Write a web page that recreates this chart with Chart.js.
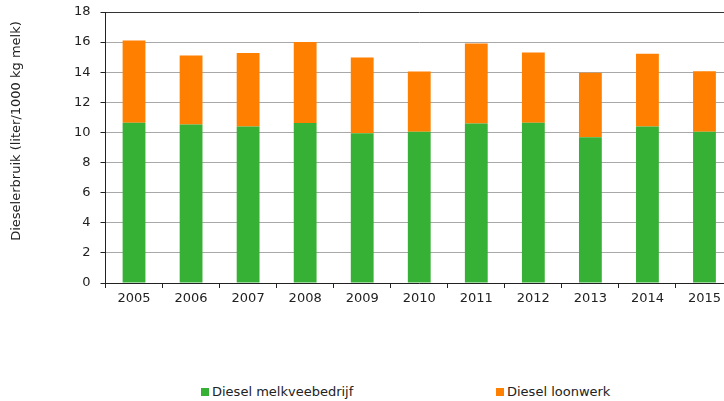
<!DOCTYPE html>
<html>
<head>
<meta charset="utf-8">
<script src="https://cdn.jsdelivr.net/npm/chart.js@4"></script>
<style>
  html, body { margin: 0; padding: 0; background: #fff; overflow: hidden; width: 724px; height: 401px; }
  #wrap { position: relative; width: 724px; height: 401px; }
  #c { position: absolute; left: 0; top: 0; }
  .legend { position: absolute; top: 384px; font: 13px "DejaVu Sans", Verdana, sans-serif; color: #222; white-space: nowrap; }
  .legend span.box { display: inline-block; width: 8px; height: 8px; margin-right: 3px; vertical-align: 0px; }
</style>
</head>
<body>
<div id="wrap">
  <canvas id="c" width="740" height="320"></canvas>
  <div class="legend" style="left:201px"><span class="box" style="background:#37b036"></span>Diesel melkveebedrijf</div>
  <div class="legend" style="left:496px"><span class="box" style="background:#ff7f00"></span>Diesel loonwerk</div>
</div>
<script>
const jaren = ['2005', '2006', '2007', '2008', '2009', '2010', '2011', '2012', '2013', '2014', '2015'];
const diesel_melkveebedrijf = [10.65, 10.52, 10.39, 10.63, 9.95, 10.05, 10.59, 10.65, 9.68, 10.39, 10.05];
const diesel_loonwerk = [5.46, 4.59, 4.88, 5.37, 5.03, 4.00, 5.32, 4.66, 4.28, 4.83, 4.02];

const lettertype = { family: '"DejaVu Sans", Verdana, sans-serif', size: 13 };

// y-as titel zelf tekenen, iets boven het midden zoals in het origineel
const asTitel = {
  id: 'asTitel',
  afterDraw(chart) {
    const ctx = chart.ctx;
    ctx.save();
    ctx.translate(17, 131);
    ctx.rotate(-Math.PI / 2);
    ctx.font = '13px "DejaVu Sans", Verdana, sans-serif';
    ctx.fillStyle = '#222';
    ctx.textAlign = 'center';
    ctx.textBaseline = 'middle';
    ctx.fillText('Dieselerbruik (liter/1000 kg melk)', 0, 0);
    ctx.restore();
  }
};

const ctx1 = document.getElementById('c').getContext('2d');

new Chart(ctx1, {
  type: 'bar',
  data: {
    labels: jaren,
    datasets: [
      {
        label: 'Diesel melkveebedrijf',
        data: diesel_melkveebedrijf,
        backgroundColor: '#37b036',
        categoryPercentage: 1,
        barPercentage: 0.4
      },
      {
        label: 'Diesel loonwerk',
        data: diesel_loonwerk,
        backgroundColor: '#ff7f00',
        categoryPercentage: 1,
        barPercentage: 0.4
      }
    ]
  },
  options: {
    responsive: false,
    animation: false,
    devicePixelRatio: 1,
    layout: { padding: { top: 12, left: 0, right: 7, bottom: 0 } },
    plugins: {
      legend: { display: false },
      tooltip: { enabled: false }
    },
    scales: {
      x: {
        stacked: true,
        afterFit: (s) => { s.height = 37; s.paddingLeft = 0; s.paddingRight = 0; },
        grid: { drawOnChartArea: false, drawTicks: true, tickLength: 5, tickColor: '#222', offset: true },
        border: { color: '#222', width: 1 },
        ticks: { color: '#222', font: lettertype, padding: 3, maxRotation: 0 }
      },
      y: {
        stacked: true,
        min: 0,
        max: 18,
        afterFit: (s) => { s.width = 105.5; s.paddingTop = 0; s.paddingBottom = 0; },
        ticks: { stepSize: 2, color: '#222', font: lettertype, padding: 10 },
        grid: {
          color: (c) => c.tick && c.tick.value === 18 ? '#333' : '#a8a8a8',
          tickColor: '#222',
          tickLength: 5
        },
        border: { color: '#222', width: 1 }
      }
    }
  },
  plugins: [asTitel]
});
</script>
</body>
</html>
